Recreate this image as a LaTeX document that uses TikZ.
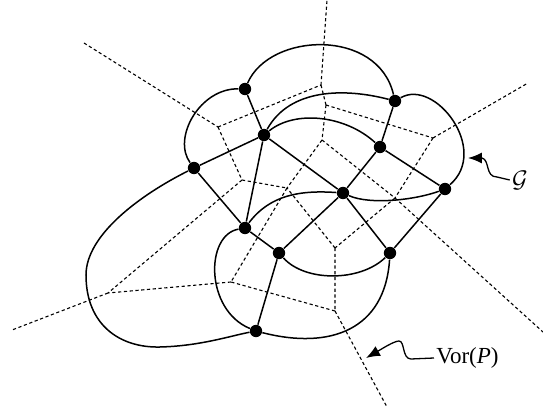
\documentclass[tikz,border=0pt]{standalone}
\usepackage{fontspec}
\setmainfont{Liberation Serif}
\usetikzlibrary{arrows.meta}
\begin{document}
\begin{tikzpicture}[x=0.5pt,y=-0.5pt,
  site/.style={circle,fill=black,inner sep=0pt,minimum size=6.2pt},
  vorline/.style={line width=0.55pt,dash pattern=on 1.6pt off 1.3pt},
  gedge/.style={line width=0.75pt},
  pointer/.style={line width=0.65pt,-{Latex[length=7pt,width=5.5pt]}},
  lbl/.style={font=\fontsize{11.5}{14}\selectfont,inner sep=1pt}]
\useasboundingbox (0,0) rectangle (543,407);
% Voronoi vertices and ray ends
\coordinate (v1) at (218,127);
\coordinate (v2) at (242,180);
\coordinate (v3) at (321,85);
\coordinate (v4) at (326,105);
\coordinate (v5) at (433,138);
\coordinate (v6) at (322,140);
\coordinate (v7) at (395,198);
\coordinate (v8) at (335,248);
\coordinate (v9) at (335,311);
\coordinate (v10) at (287,188);
\coordinate (v11) at (231,282);
\coordinate (v12) at (108,293);
\coordinate (r1) at (84,43);
\coordinate (r3) at (327,0);
\coordinate (r5) at (528,83);
\coordinate (r7) at (543,332);
\coordinate (r9) at (387,407);
\coordinate (r12) at (12,330);
\draw[vorline] (r1)--(v1) (v1)--(v2) (v1)--(v3) (v2)--(v10) (v2)--(v12)
  (v3)--(v4) (v3)--(r3) (v4)--(v5) (v4)--(v6) (v5)--(v7) (v5)--(r5)
  (v6)--(v10) (v6)--(v7) (v7)--(v8) (v7)--(r7) (v8)--(v9) (v8)--(v10)
  (v9)--(v11) (v9)--(r9) (v10)--(v11) (v11)--(v12) (v12)--(r12);
% sites
\node[site] (A) at (245,89) {};
\node[site] (B) at (264,135) {};
\node[site] (C) at (194,168) {};
\node[site] (D) at (395,101) {};
\node[site] (E) at (380,147) {};
\node[site] (F) at (343,193) {};
\node[site] (G) at (445,189) {};
\node[site] (H) at (245,228) {};
\node[site] (I) at (279,253) {};
\node[site] (J) at (390,253) {};
\node[site] (K) at (256,331) {};
% straight edges
\draw[gedge] (A)--(B) (B)--(C) (B)--(H) (B)--(F) (C)--(H) (D)--(E)
  (E)--(F) (E)--(G) (F)--(I) (F)--(J) (G)--(J) (H)--(I) (I)--(K);
% curved edges
\draw[gedge] (A) .. controls (200,88) and (172,138) .. (C);
\draw[gedge] (A) .. controls (270,32) and (378,28) .. (D);
\draw[gedge] (B) .. controls (290,88) and (345,88) .. (D);
\draw[gedge] (B) .. controls (295,110) and (345,115) .. (E);
\draw[gedge] (D) .. controls (435,78) and (490,150) .. (G);
\draw[gedge] (F) .. controls (370,205) and (415,200) .. (G);
\draw[gedge] (H) .. controls (270,195) and (300,190) .. (F);
\draw[gedge] (H) .. controls (205,235) and (205,310) .. (K);
\draw[gedge] (I) .. controls (305,282) and (360,282) .. (J);
\draw[gedge] (J) .. controls (385,330) and (330,350) .. (K);
\draw[gedge] (C) .. controls (140,195) and (86,235) .. (86,275)
  .. controls (86,325) and (120,348) .. (160,347)
  .. controls (200,346) and (230,336) .. (K);
% labels
\node[lbl,anchor=west] (vorlab) at (434,358) {Vor(\textit{P})};
\node[lbl] (glab) at (520,180) {$\mathcal{G}$};
\coordinate (vtip) at (366,358);
\coordinate (gtip) at (468,158);
\draw[pointer] (vorlab.west) -- (411,359) .. controls (402,359) and (405,341) .. (399,341)
  .. controls (394,341) and (380,350) .. (vtip);
\draw[pointer] (glab.west) -- (497,177) .. controls (485,177) and (490,160) .. (482,158)
  -- (gtip);
\end{tikzpicture}
\end{document}
